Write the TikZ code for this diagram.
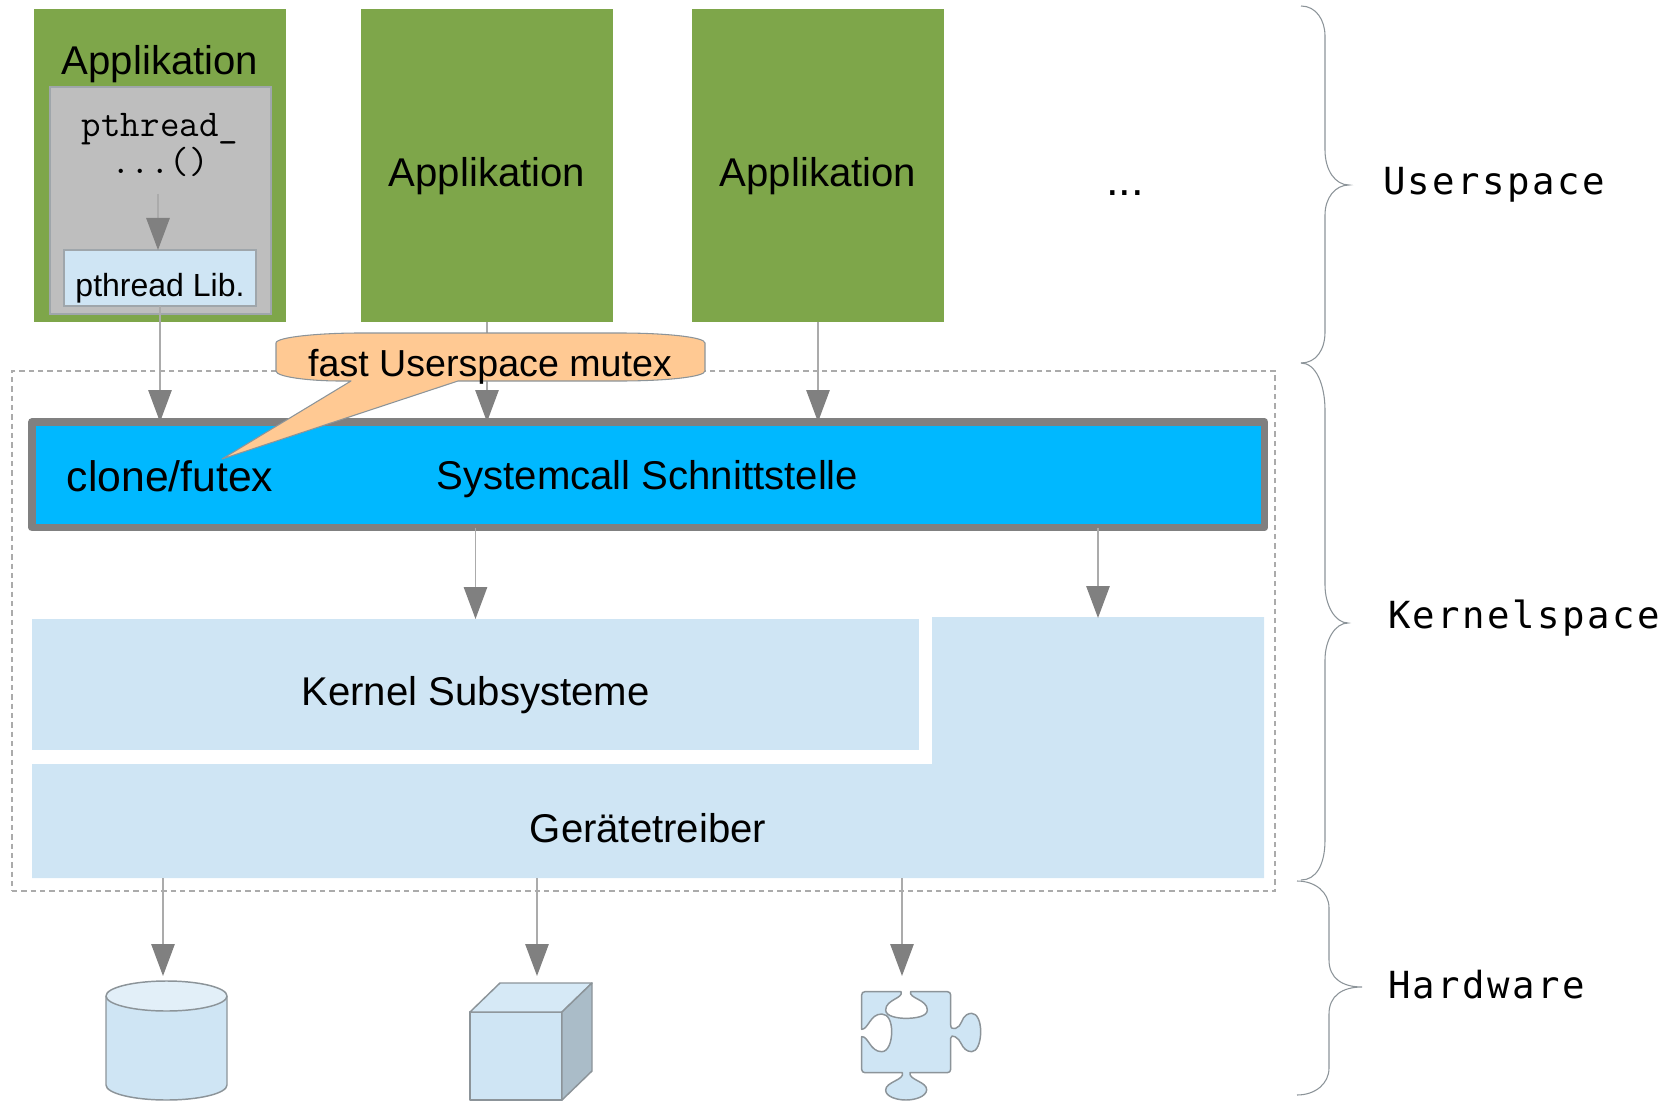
\documentclass[tikz,border=0pt]{standalone}
\usepackage{fontspec}
\setmainfont{Liberation Sans}
\newfontfamily\sidefont[LetterSpace=6.6]{DejaVu Sans Mono}
\usetikzlibrary{arrows.meta,fit}
\definecolor{appgreen}{HTML}{7EA64A}
\definecolor{libgrey}{HTML}{BEBEBE}
\definecolor{paleblue}{HTML}{CFE5F4}
\definecolor{barblue}{HTML}{00B8FF}
\definecolor{calloutfill}{HTML}{FFC993}
\definecolor{stemgrey}{HTML}{ABABAB}
\definecolor{headgrey}{HTML}{808080}
\definecolor{edgegrey}{HTML}{8C9499}
\definecolor{softedge}{HTML}{9FA6AB}
\tikzset{
  region/.style={inner sep=0pt,outer sep=0pt,rectangle},
  txt/.style={anchor=base,inner sep=0pt,outer sep=0pt,font=\fontsize{30.1}{36}\selectfont},
  codetxt/.style={txt,font=\ttfamily\fontsize{28.4}{32}\selectfont},
  sidelabel/.style={anchor=base west,inner sep=0pt,outer sep=0pt,font=\sidefont\fontsize{28}{36}\selectfont},
  conn/.style={draw=stemgrey,line width=1.4pt,-{Triangle[width=17.5pt,length=24pt,color=headgrey]}},
  bracecurve/.style={draw=edgegrey,line width=0.8pt},
  icon/.style={draw=edgegrey,line width=1.1pt,line join=round}
}
\begin{document}
\begin{tikzpicture}[x=0.75pt,y=-0.75pt]
\useasboundingbox (0,0) rectangle (1678,1102);
% applications
\node[region,fill=appgreen,fit={(34,9)(286,322)}] (app1) {};
\node[region,fill=appgreen,fit={(361,9)(613,322)}] (app2) {};
\node[region,fill=appgreen,fit={(692,9)(944,322)}] (app3) {};
\node[region,fill=libgrey,draw=softedge,line width=0.8pt,fit={(50,87)(271,314)}] (grey) {};
\node[region,fill=paleblue,draw=softedge,line width=0.8pt,fit={(64,250)(256,306)}] (lib) {};
% kernelspace frame
\node[region,draw=stemgrey,line width=1.1pt,dash pattern=on 4pt off 3pt,fit={(12,371)(1275,891)}] (kspace) {};
% kernel blocks
\node[region,fill=paleblue,fit={(32,619)(919,750)}] (kernel) {};
\fill[paleblue] (32,764) -- (932,764) -- (932,617) -- (1264,617) -- (1264,878) -- (32,878) -- cycle;
\node[region,fit={(932,618)(1264,700)}] (drvupper) {};
\node[region,fit={(32,764)(1264,878)}] (drvlower) {};
% system call bar
\node[region,fill=barblue,draw=headgrey,line width=5.6pt,line join=round,fit={(32,422)(1264.5,527.5)}] (bar) {};
% connector ends at the hardware icons
\coordinate (cylIn) at (163,976);
\coordinate (cubeIn) at (537,976);
\coordinate (puzzleIn) at (902,976);
\coordinate (callOut) at (158,194);
% connectors
\draw[conn] (callOut) -- (callOut |- lib.north);
\draw[conn] (lib.south) -- (lib.south |- bar.north);
\draw[conn] (app2.south) -- (app2.south |- bar.north);
\draw[conn] (app3.south) -- (app3.south |- bar.north);
\draw[conn] (kernel.north |- bar.south) -- (kernel.north);
\draw[conn] (drvupper.north |- bar.south) -- (drvupper.north);
\draw[conn] (drvlower.south -| cylIn) -- (cylIn);
\draw[conn] (drvlower.south -| cubeIn) -- (cubeIn);
\draw[conn] (drvlower.south -| puzzleIn) -- (puzzleIn);
% callout
\draw[fill=calloutfill,draw=edgegrey,line width=0.8pt,line join=round]
  (276,343) .. controls (276,337) and (320,333) .. (360,333) -- (620,333)
  .. controls (665,333) and (705,337) .. (705,343) -- (705,371)
  .. controls (705,377) and (665,381) .. (620,381) -- (458,381) -- (222,459) -- (351,381) -- (340,381)
  .. controls (310,381) and (276,377) .. (276,371) -- cycle;
% texts
\node[txt] (t1) at (160,75) {Applikation};
\node[txt] (t2) at (487,187) {Applikation};
\node[txt] (t3) at (818,187) {Applikation};
\node[txt,font=\fontsize{34}{40}\selectfont] (dots) at (1125,196) {...};
\node[codetxt] (c1) at (160,137) {pthread\_};
\node[codetxt] (c2) at (160,174) {...()};
\node[txt,font=\fontsize{24}{28}\selectfont] (t4) at (160,296) {pthread Lib.};
\node[txt,font=\fontsize{28.2}{34}\selectfont] (t5) at (490,376) {fast Userspace mutex};
\node[txt,font=\fontsize{32}{38}\selectfont] (t6) at (170,491) {clone/futex};
\node[txt] (t7) at (647.5,489) {Systemcall Schnittstelle};
\node[txt] (t8) at (475.5,705) {Kernel Subsysteme};
\node[txt] (t9) at (648,842) {Gerätetreiber};
% braces
\draw[bracecurve] (1301,6) .. controls (1316,6) and (1325,20) .. (1325,36) -- (1325,150)
  .. controls (1325,170) and (1335,185) .. (1349,185) .. controls (1335,185) and (1325,198) .. (1325,215) -- (1325,332)
  .. controls (1325,350) and (1316,363) .. (1301,363);
\draw[bracecurve] (1301,363) .. controls (1316,363) and (1325,385) .. (1325,410) -- (1325,585)
  .. controls (1325,605) and (1335,623) .. (1348,623) .. controls (1335,623) and (1325,640) .. (1325,660) -- (1325,840)
  .. controls (1325,865) and (1316,880) .. (1301,880);
\draw[bracecurve] (1297,881) .. controls (1315,881) and (1329,892) .. (1329,908) -- (1329,960)
  .. controls (1329,978) and (1342,987) .. (1362,987) .. controls (1342,987) and (1329,996) .. (1329,1014) -- (1329,1068)
  .. controls (1329,1084) and (1315,1095) .. (1297,1095);
\node[sidelabel] (l1) at (1383,195) {Userspace};
\node[sidelabel] (l2) at (1388,628) {Kernelspace};
\node[sidelabel] (l3) at (1388,998) {Hardware};
% cylinder
\draw[icon,fill=paleblue] (106,996) -- (106,1085) arc[start angle=180,end angle=0,x radius=60.5,y radius=15] -- (227,996);
\draw[icon,fill=paleblue!60!white] (166.5,996) ellipse[x radius=60.5,y radius=15];
% cube
\draw[icon,fill=paleblue] (470,1012) rectangle (562,1100);
\draw[icon,fill=paleblue!85!white] (470,1012) -- (500,983) -- (592,983) -- (562,1012) -- cycle;
\draw[icon,fill=paleblue!70!black!60!paleblue] (562,1012) -- (592,983) -- (592,1071) -- (562,1100) -- cycle;
% puzzle piece
\begin{scope}[shift={(840,960)},x=0.25pt,y=-0.25pt]
\draw[icon,fill=paleblue]
  (75,95) -- (183,95) .. controls (192,115) and (137,118) .. (137,150)
  .. controls (137,170) and (175,175) .. (198,175) .. controls (225,175) and (262,170) .. (262,150)
  .. controls (262,118) and (205,115) .. (212,95) -- (322,95)
  .. controls (328,95) and (332,99) .. (332,105) -- (332,195)
  .. controls (332,215) and (360,205) .. (365,185) .. controls (372,165) and (385,160) .. (395,160)
  .. controls (412,160) and (422,185) .. (422,215) .. controls (422,250) and (410,275) .. (395,275)
  .. controls (380,275) and (370,265) .. (363,250) .. controls (358,235) and (332,218) .. (332,235)
  -- (332,328) .. controls (332,334) and (328,338) .. (322,338) -- (210,338)
  .. controls (205,360) and (262,365) .. (260,390) .. controls (258,410) and (225,420) .. (198,420)
  .. controls (170,420) and (137,410) .. (137,390) .. controls (137,365) and (195,360) .. (187,338)
  -- (75,338) .. controls (69,338) and (65,334) .. (65,328) -- (65,230)
  .. controls (85,228) and (90,275) .. (125,275) .. controls (145,275) and (155,245) .. (155,215)
  .. controls (155,185) and (145,162) .. (125,162) .. controls (90,162) and (85,208) .. (65,208)
  -- (65,105) .. controls (65,99) and (69,95) .. (75,95) -- cycle;
\end{scope}
\end{tikzpicture}
\end{document}
